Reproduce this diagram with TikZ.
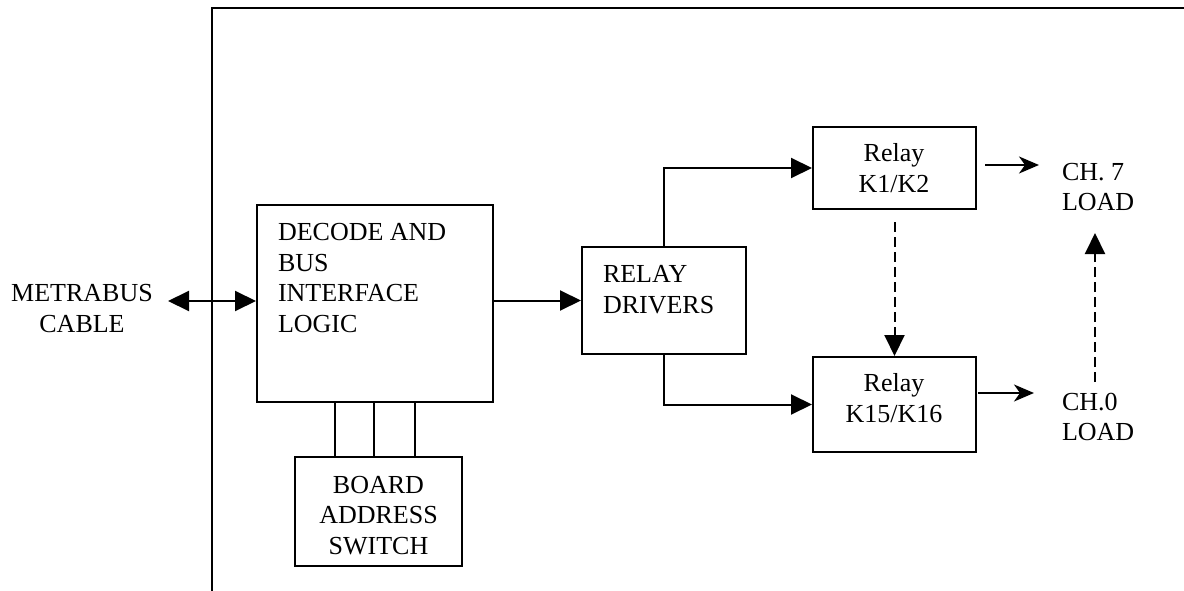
\documentclass[tikz,border=0pt]{standalone}
\usepackage{fontspec}
\setmainfont{Liberation Serif}
\usetikzlibrary{arrows.meta}
\begin{document}
\begin{tikzpicture}[x=1pt,y=-1pt,
  font=\fontsize{26pt}{30.5pt}\selectfont,
  line width=2pt,
  block/.style={draw, line width=2pt, inner sep=0pt, rectangle},
  label/.style={inner sep=0pt, outer sep=0pt},
  fat/.style={-{Triangle[length=21pt,width=20pt]}},
  thin/.style={-{Stealth[length=20pt,width=17pt,inset=6pt]}, line width=2pt},
  dashedlink/.style={dash pattern=on 10pt off 5pt, line width=2pt,
    -{Triangle[length=21pt,width=20pt]}}
]
\useasboundingbox (0,0) rectangle (1184,591);

% board outline
\draw[line width=2.2pt] (1184,8) -- (212,8) -- (212,591);

% blocks
\node[block, minimum width=236pt, minimum height=197pt] (decode) at (375,303.5) {};
\node[block, minimum width=164pt, minimum height=107pt] (drivers) at (664,300.5) {};
\node[block, minimum width=163pt, minimum height=82pt] (kA) at (894.5,168) {};
\node[block, minimum width=163pt, minimum height=95pt] (kB) at (894.5,404.5) {};
\node[block, minimum width=167pt, minimum height=109pt] (sw) at (378.5,511.5) {};

% texts
\node[label, anchor=north, align=center] (cable) at (82,284.5) {METRABUS\\CABLE};
\node[label, anchor=north west, align=left] (decodetxt) at (278,223.5)
  {DECODE AND\\BUS\\INTERFACE\\LOGIC};
\node[label, anchor=north west, align=left] (drvtxt) at (603,265.5) {RELAY\\DRIVERS};
\node[label, anchor=north, align=center] (kAtxt) at (894,143.5) {Relay\\K1/K2};
\node[label, anchor=north, align=center] (kBtxt) at (894,373.5) {Relay\\K15/K16};
\node[label, anchor=north, align=center] (swtxt) at (378.5,476) {BOARD\\ADDRESS\\SWITCH};
\node[label, anchor=north west, align=left] (ch7) at (1062,163) {CH. 7\\LOAD};
\node[label, anchor=north west, align=left] (ch0) at (1062,393) {CH.0\\LOAD};

% bus cable
\coordinate (mb) at (168,301);
\draw[{Triangle[length=21pt,width=20pt]}-{Triangle[length=21pt,width=20pt]}]
  (mb) -- (mb -| decode.west);

% decode to relay drivers
\draw[fat] (decode.east |- drivers.west) -- (drivers.west);

% relay drivers to relays
\draw[fat] (drivers.north) |- (kA.west);
\draw[fat] (drivers.south) |- (kB.west);

% relay chain
\draw[dashedlink] ([yshift=-12pt]kA.south) -- (kB.north);

% relays to loads
\coordinate (oA) at (985,165);
\coordinate (oB) at (978,393);
\draw[thin] (oA) -- (1039,165);
\draw[thin] (oB) -- (1034,393);
\draw[dashedlink] (1095,382) -- (1095,233);

% address switch lines
\foreach \xx in {335,374,415}
  \draw (\xx,0 |- decode.south) -- (\xx,0 |- sw.north);
\end{tikzpicture}
\end{document}
